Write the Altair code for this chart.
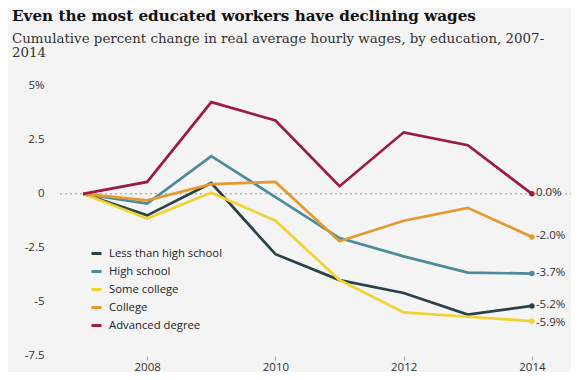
import altair as alt
import pandas as pd

years = [2007, 2008, 2009, 2010, 2011, 2012, 2013, 2014]
series = ["Less than high school", "High school", "Some college", "College", "Advanced degree"]
less_hs = [0, -1.0, 0.5, -2.8, -4.0, -4.6, -5.6, -5.2]
high_school = [0, -0.45, 1.75, -0.15, -2.05, -2.9, -3.65, -3.7]
some_college = [0, -1.15, 0.05, -1.25, -4.0, -5.5, -5.7, -5.9]
college = [0, -0.3, 0.45, 0.55, -2.2, -1.25, -0.65, -2.0]
advanced = [0, 0.55, 4.25, 3.4, 0.35, 2.85, 2.25, 0.0]
end_labels = ["-5.2%", "-3.7%", "-5.9%", "-2.0%", "0.0%"]
colors = ["#2b4148", "#4d8a9c", "#f0d232", "#e39a2e", "#9b1b45"]
y_ticks = [5, 2.5, 0, -2.5, -5, -7.5]
x_ticks = [2008, 2010, 2012, 2014]

vals = [less_hs, high_school, some_college, college, advanced]
rows = []
for s, v in zip(series, vals):
    for yr, val in zip(years, v):
        rows.append({"series": s, "year": yr, "value": val})
df = pd.DataFrame(rows)
end_df = pd.DataFrame({
    "series": series,
    "year": [years[-1]] * len(series),
    "value": [v[-1] for v in vals],
    "label": end_labels,
})

xs = alt.Scale(domain=[2006.64, 2014.36], nice=False, zero=False)
ys = alt.Scale(domain=[-7.52, 5.74], nice=False, zero=False)
cs = alt.Scale(domain=series, range=colors)

zero = alt.Chart(pd.DataFrame({"v": [0]})).mark_rule(
    color="#999999", strokeDash=[2, 3], strokeWidth=1
).encode(y=alt.Y("v:Q", scale=ys), x=alt.value(0), x2=alt.datum(2014))

lines = alt.Chart(df).mark_line(strokeWidth=2.7).encode(
    x=alt.X("year:Q", scale=xs, axis=alt.Axis(
        values=x_ticks, format="d", title=None, grid=False, domain=False,
        ticks=True, tickSize=4, tickColor="#999999", labelColor="#333333",
        labelFontSize=11.5, labelFont="Open Sans", labelPadding=1)),
    y=alt.Y("value:Q", scale=ys, axis=alt.Axis(
        values=y_ticks, title=None, grid=False, domain=False, ticks=False,
        labelExpr="datum.value == 5 ? '5%' : '' + datum.value",
        labelColor="#333333", labelFontSize=11.5, labelFont="Open Sans",
        labelPadding=16)),
    color=alt.Color("series:N", scale=cs, sort=series, legend=alt.Legend(
        title=None, orient="none", legendX=30, legendY=177,
        symbolType="stroke", symbolSize=100, symbolStrokeWidth=3,
        labelFont="Open Sans", labelFontSize=11.3, labelColor="#222222",
        rowPadding=5, labelOffset=6)),
    detail="series:N",
)

pts = alt.Chart(end_df).mark_circle(size=30, opacity=1).encode(
    x=alt.X("year:Q", scale=xs),
    y=alt.Y("value:Q", scale=ys),
    color=alt.Color("series:N", scale=cs, legend=None),
)

txt_base = alt.Chart(end_df).encode(
    x=alt.X("year:Q", scale=xs),
    y=alt.Y("value:Q", scale=ys),
    text="label:N",
)
txt_main = txt_base.mark_text(
    align="left", dx=4, dy=-1, fontSize=11.5, font="Open Sans", color="#333333"
).transform_filter(alt.datum.series != "Some college")
txt_low = txt_base.mark_text(
    align="left", dx=4, dy=2, fontSize=11.5, font="Open Sans", color="#333333"
).transform_filter(alt.datum.series == "Some college")

chart = alt.layer(zero, lines, pts, txt_main, txt_low).properties(
    width=495, height=286,
    autosize=alt.AutoSizeParams(type="none"),
    padding={"left": 52, "top": 62, "right": 16, "bottom": 16},
    background="#f4f4f4",
    title=alt.TitleParams(
        text="Even the most educated workers have declining wages",
        subtitle=["Cumulative percent change in real average hourly wages, by education, 2007-", "2014"],
        anchor="start", frame="group", dx=-48, offset=11,
        font="DejaVu Serif", fontSize=15.2, fontWeight="bold", color="#111111",
        subtitleFont="DejaVu Serif", subtitleFontSize=13.4, subtitleColor="#333333",
        subtitleLineHeight=13.5, subtitlePadding=8,
    ),
).configure_view(stroke=None)

chart.save("out.html", embed_options={"renderer": "svg", "actions": False})
